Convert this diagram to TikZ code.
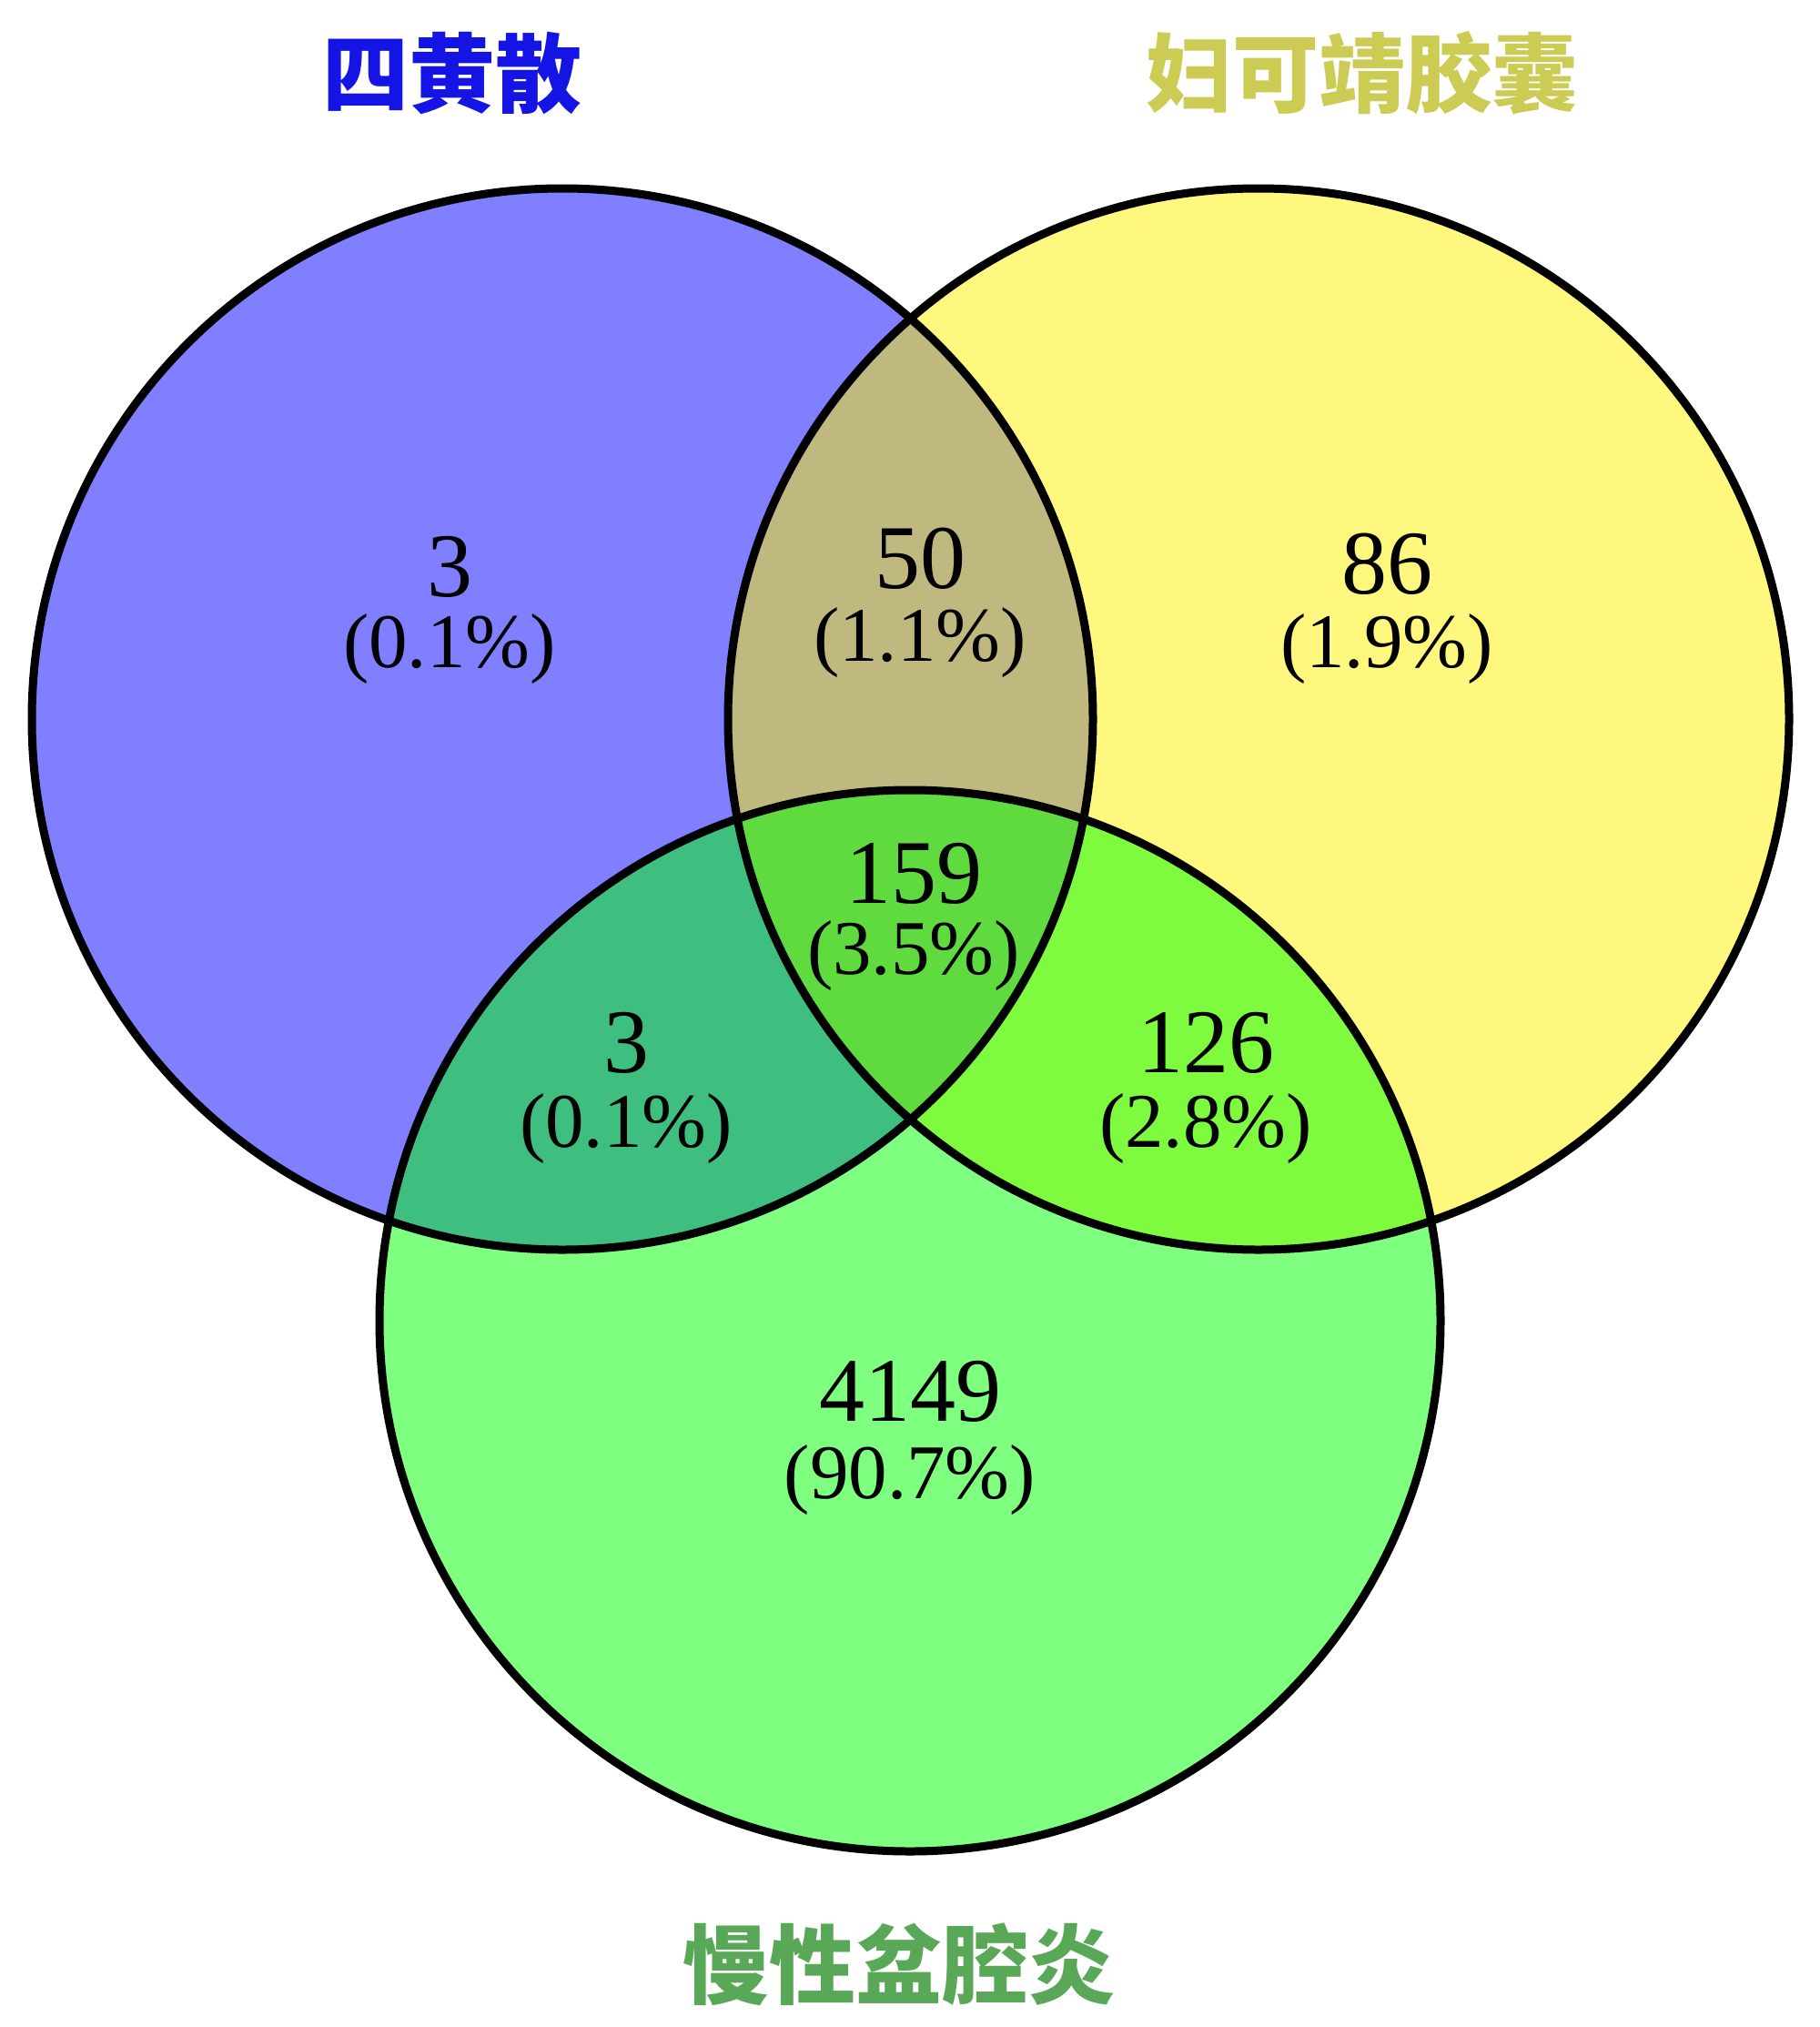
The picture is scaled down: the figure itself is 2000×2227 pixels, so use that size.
\documentclass[tikz,border=0pt]{standalone}
\usepackage{fontspec}
\setmainfont{Liberation Serif}
\newfontfamily\cjk{Noto Sans CJK SC}
\definecolor{titleblue}{RGB}{20,20,228}
\definecolor{titleyellow}{RGB}{204,204,84}
\definecolor{titlegreen}{RGB}{88,168,88}
\begin{document}
\begin{tikzpicture}[x=0.3pt,y=-0.3pt,
  setfill/.style={fill opacity=0.5},
  ring/.style={draw=black, line width=2.7pt},
  cnt/.style={anchor=base, inner sep=0pt, font=\fontsize{30}{30}\selectfont},
  pct/.style={anchor=base, inner sep=0pt, font=\fontsize{25.5}{25.5}\selectfont},
  ttl/.style={inner sep=0pt, font=\cjk\bfseries\fontsize{28.5}{28.5}\selectfont}]
\useasboundingbox (0,0) rectangle (2000,2227);
\fill[white] (0,0) rectangle (2000,2227);
% set fills
\fill[blue, setfill] (618,790) circle (583);
\fill[yellow, setfill] (1383,790) circle (583);
\fill[green, setfill] (1000,1451) circle (583);
% outlines
\draw[ring] (618,790) circle (583);
\draw[ring] (1383,790) circle (583);
\draw[ring] (1000,1451) circle (583);
% titles
\node[ttl, text=titleblue] (tA) at (497,80) {四黄散};
\node[ttl, text=titleyellow] (tB) at (1497,80) {妇可靖胶囊};
\node[ttl, text=titlegreen] (tC) at (988,2158) {慢性盆腔炎};
% counts
\node[cnt] (a1) at (494,655) {3};
\node[pct] (a2) at (494,733) {(0.1\%)};
\node[cnt] (ab1) at (1011,646) {50};
\node[pct] (ab2) at (1011,726) {(1.1\%)};
\node[cnt] (b1) at (1524,652) {86};
\node[pct] (b2) at (1524,733) {(1.9\%)};
\node[cnt] (abc1) at (1004,992) {159};
\node[pct] (abc2) at (1004,1070) {(3.5\%)};
\node[cnt] (ac1) at (688,1178) {3};
\node[pct] (ac2) at (688,1260) {(0.1\%)};
\node[cnt] (bc1) at (1325,1178) {126};
\node[pct] (bc2) at (1325,1260) {(2.8\%)};
\node[cnt] (c1) at (1000,1561) {4149};
\node[pct] (c2) at (1000,1646) {(90.7\%)};
\end{tikzpicture}
\end{document}
